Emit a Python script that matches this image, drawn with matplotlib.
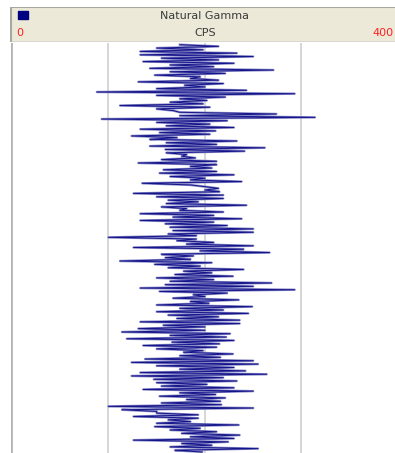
import numpy as np
import matplotlib.pyplot as plt
from matplotlib.patches import Rectangle

# Natural gamma log, CPS values from top to bottom
gamma_cps = [
    174, 214, 150, 198, 133, 233, 133, 250, 155, 214, 136, 230, 164, 209, 143, 271,
    164, 221, 148, 195, 185, 214, 131, 219, 179, 200, 150, 243, 88, 293, 150, 221,
    174, 202, 164, 198, 112, 205, 150, 167, 174, 274, 174, 314, 93, 223, 150, 205,
    160, 230, 133, 211, 153, 205, 124, 171, 143, 233, 160, 212, 143, 262,
    159, 241, 160, 181, 176, 190, 155, 212, 131, 212, 185, 207, 157, 212, 153, 230,
    164, 200, 185, 238, 135, 185, 200, 214, 200, 215, 126, 219, 150, 219, 162, 193,
    160, 243, 155, 181, 174, 219, 133, 209, 167, 238, 133, 209, 159, 223, 164, 250,
    167, 250, 162, 191, 100, 191, 171, 209, 181, 250, 126, 240, 195, 267, 155, 188,
    159, 185, 112, 207, 148, 195, 162, 240, 178, 207, 169, 229, 150, 209, 164, 269,
    159, 250, 133, 293, 153, 223, 188, 200, 167, 235, 185, 204, 150, 249, 174, 219,
    150, 245, 162, 214, 171, 236, 133, 236, 157, 200, 131, 200, 114, 226, 164, 222,
    119, 230, 166, 215, 136, 212, 150, 198, 178, 229, 174, 216, 138, 250, 124, 255,
    150, 230, 174, 242, 133, 264, 124, 219, 147, 233, 150, 202,
    155, 230, 136, 250, 174, 211, 153, 221, 181, 216, 155, 217, 100, 250, 114, 150,
    150, 193, 126, 193, 162, 185, 150, 235, 148, 195, 164, 212, 176, 236, 185, 230,
    126, 224, 176, 207, 164, 255, 169, 197,
]
depth = np.arange(len(gamma_cps)) * 0.5  # sample spacing

track_title = 'Natural Gamma'
track_unit = 'CPS'
scale_min, scale_max = 0, 400
grid_ticks = [100, 200, 300]

W, H = 395, 453
fig = plt.figure(figsize=(W / 100, H / 100), dpi=100)
fig.patch.set_facecolor('white')

# header strip
hdr = fig.add_axes([10 / W, 1 - 42 / H, 385 / W, 35 / H])
hdr.set_facecolor('#ECE9D8')
hdr.set_xlim(0, 385)
hdr.set_ylim(35, 0)
hdr.set_xticks([])
hdr.set_yticks([])
for s in hdr.spines.values():
    s.set_visible(False)
hdr.axhline(0.3, color='#A8A8A0', lw=1.5)
hdr.axhline(34.6, color='#D4D4D0', lw=1.2)
hdr.axvline(0.5, color='#A8A8A0', lw=1.5)
hdr.add_patch(Rectangle((8, 4), 10, 8, color='#000080'))
hdr.text(195, 8.5, track_title, ha='center', va='center', fontsize=8, color='#3A3A3A')
hdr.text(195, 26, track_unit, ha='center', va='center', fontsize=8, color='#3A3A3A')
hdr.text(9.5, 26.5, str(scale_min), ha='center', va='center', fontsize=8, color='#FF2020')
hdr.text(384, 26.5, str(scale_max), ha='right', va='center', fontsize=8, color='#FF2020')

# log track
ax = fig.add_axes([11 / W, 0, 384 / W, 1 - 43 / H])
ax.set_facecolor('white')
ax.plot(gamma_cps, depth, color='#8A8AC8', lw=1.7)
ax.plot(gamma_cps, depth, color='#000080', lw=0.7, alpha=0.85)
ax.set_xlim(-1, 397)
ax.set_ylim(depth[-1] + 0.3, depth[0] - 0.5)
for g in grid_ticks:
    ax.axvline(g, color='#D6D6D6', lw=1.4, zorder=0)
ax.set_xticks([])
ax.set_yticks([])
for s in ax.spines.values():
    s.set_visible(False)
ax.axvline(-1, color='#B4B4B4', lw=2.0)

fig.savefig('out.png', dpi=100)
